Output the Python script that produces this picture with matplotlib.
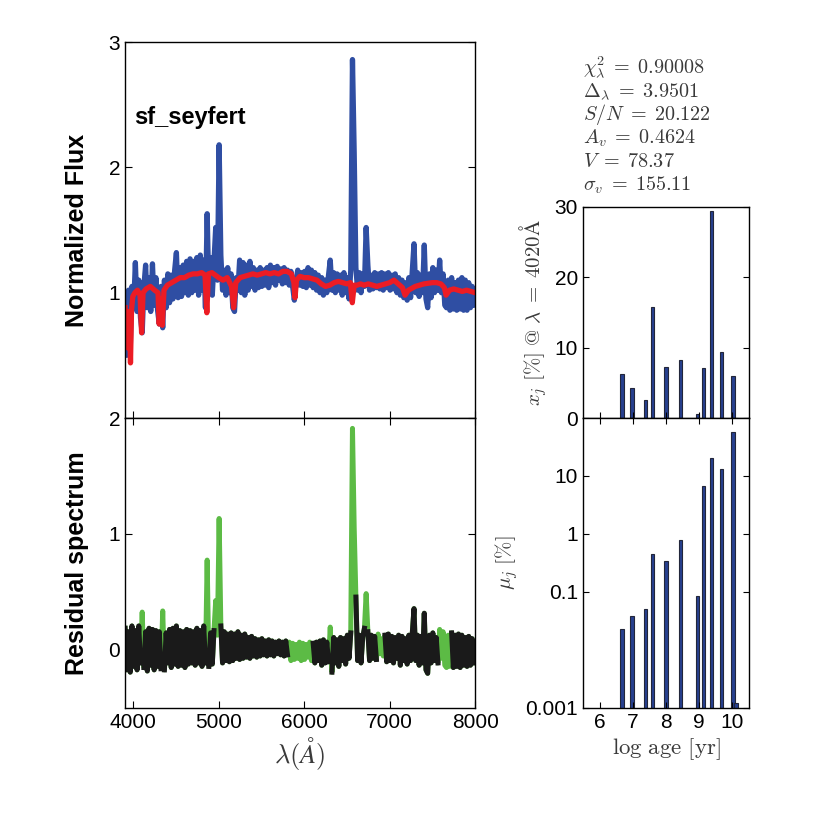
import numpy as np
import matplotlib
matplotlib.use('Agg')
import matplotlib.pyplot as plt

plt.rcParams['font.family'] = ['Liberation Sans', 'DejaVu Sans']
plt.rcParams['mathtext.fontset'] = 'cm'

# observed spectrum, 20 A sampling from 3905 A
lam = np.arange(3905, 8000, 20)
flux_obs = [
    0.95, 0.50, 1.02, 0.55, 1.05, 0.88, 1.24, 0.85, 1.10, 0.80,
    0.68, 1.05, 1.22, 0.88, 1.12, 0.85, 1.23, 0.90, 1.12, 0.86,
    0.75, 1.05, 0.72, 1.10, 0.88, 1.15, 0.92, 1.14, 0.95, 1.18,
    1.32, 0.96, 1.20, 0.97, 1.22, 1.00, 1.25, 0.98, 1.27, 1.00,
    1.25, 1.02, 1.28, 0.98, 1.30, 1.02, 1.26, 0.88, 1.63, 1.00,
    1.28, 0.98, 1.25, 1.52, 1.10, 2.18, 1.30, 1.02, 1.18, 0.98,
    1.20, 1.00, 1.15, 0.88, 0.85, 1.12, 1.02, 1.26, 1.00, 1.24,
    0.98, 1.22, 1.02, 1.25, 1.05, 1.20, 1.02, 1.18, 1.04, 1.20,
    1.05, 1.18, 1.06, 1.20, 1.04, 1.22, 1.08, 1.20, 1.06, 1.21,
    1.10, 1.19, 1.07, 1.20, 1.08, 1.18, 1.06, 1.17, 1.05, 0.94,
    1.10, 1.18, 1.06, 1.16, 1.05, 1.17, 1.04, 1.20, 1.06, 1.18,
    1.04, 1.16, 1.02, 1.14, 1.00, 1.12, 0.98, 1.10, 1.00, 1.14,
    1.26, 1.02, 1.16, 1.00, 1.15, 1.02, 1.14, 0.98, 1.16, 1.00,
    1.12, 0.95, 1.18, 2.86, 2.12, 1.20, 1.02, 1.16, 1.00, 1.15,
    1.05, 1.52, 1.22, 1.02, 1.14, 1.03, 1.16, 1.04, 1.15, 1.03,
    1.16, 1.02, 1.15, 1.04, 1.16, 1.02, 1.14, 1.03, 1.15, 1.00,
    1.12, 0.98, 1.10, 0.96, 1.08, 0.94, 1.12, 0.96, 1.18, 1.39,
    1.00, 1.16, 0.97, 1.14, 1.00, 1.38, 0.95, 0.88, 1.15, 0.96,
    1.20, 1.00, 1.18, 1.02, 1.26, 1.00, 1.15, 0.90, 0.88, 1.10,
    0.86, 1.12, 0.87, 1.08, 0.86, 1.10, 0.87, 1.12, 0.86, 1.10,
    0.86, 1.08, 0.88, 1.05, 0.90,
]

# model (synthetic) spectrum
lam_mod = [3905, 3915, 3925, 3934, 3945, 3958, 3968, 3980, 3995, 4020,
           4050, 4080, 4098, 4115, 4150, 4200, 4250, 4290, 4304, 4320,
           4340, 4360, 4400, 4450, 4500, 4550, 4600, 4650, 4700, 4750,
           4800, 4840, 4861, 4880, 4920, 4960, 5000, 5050, 5100, 5150,
           5175, 5200, 5250, 5300, 5350, 5400, 5450, 5500, 5550, 5600,
           5650, 5700, 5750, 5800, 5850, 5880, 5893, 5910, 5950, 6000,
           6050, 6100, 6150, 6200, 6250, 6300, 6350, 6400, 6450, 6500,
           6540, 6563, 6585, 6620, 6660, 6700, 6750, 6800, 6850, 6900,
           6950, 7000, 7050, 7100, 7150, 7180, 7220, 7300, 7400, 7500,
           7550, 7600, 7640, 7660, 7700, 7750, 7800, 7850, 7900, 7950,
           8000]
flux_mod = [0.88, 0.70, 0.80, 0.56, 0.85, 0.80, 0.44, 0.86, 0.97, 1.00,
            1.02, 0.98, 0.68, 1.00, 1.03, 1.05, 1.02, 1.00, 0.75, 0.95,
            0.74, 1.02, 1.06, 1.08, 1.10, 1.12, 1.12, 1.14, 1.15, 1.15,
            1.16, 1.14, 0.84, 1.15, 1.16, 1.14, 1.12, 1.10, 1.12, 1.05,
            0.88, 1.08, 1.12, 1.13, 1.14, 1.15, 1.14, 1.15, 1.16, 1.15,
            1.16, 1.15, 1.17, 1.17, 1.15, 1.08, 0.96, 1.10, 1.13, 1.12,
            1.12, 1.11, 1.10, 1.07, 1.05, 1.06, 1.08, 1.09, 1.08, 1.07,
            1.08, 0.92, 1.06, 1.06, 1.07, 1.06, 1.07, 1.06, 1.05, 1.06,
            1.07, 1.08, 1.10, 1.07, 1.04, 0.98, 1.02, 1.05, 1.07, 1.08,
            1.08, 1.07, 1.04, 0.98, 1.02, 1.03, 1.02, 1.01, 1.02, 1.01,
            1.00]

# residual spectrum on the same grid as the observed one
resid = [
    0.18, -0.18, 0.15, -0.20, 0.20, -0.15, 0.16, -0.18, 0.20, -0.12,
    0.32, -0.16, 0.15, -0.19, 0.18, -0.14, 0.17, -0.18, 0.16, -0.15,
    0.15, -0.17, 0.33, -0.18, 0.14, -0.12, 0.17, -0.16, 0.18, -0.13,
    0.20, -0.15, 0.16, -0.14, 0.15, -0.16, 0.17, -0.13, 0.16, -0.12,
    0.15, -0.14, 0.18, -0.12, 0.16, -0.15, 0.20, -0.12, 0.77, -0.15,
    0.14, -0.13, 0.16, 0.42, 0.12, 1.13, 0.20, -0.12, 0.15, -0.10,
    0.13, -0.11, 0.14, -0.10, 0.13, -0.08, 0.15, -0.09, 0.12, -0.08,
    0.13, -0.07, 0.10, -0.08, 0.11, -0.06, 0.09, -0.07, 0.08, -0.06,
    0.09, -0.05, 0.07, -0.06, 0.08, -0.05, 0.07, -0.06, 0.06, -0.04,
    0.07, -0.05, 0.06, -0.06, 0.07, -0.05, 0.06, -0.10, 0.05, -0.09,
    0.04, -0.08, 0.06, -0.10, 0.05, -0.09, 0.04, -0.07, 0.06, -0.10,
    0.05, -0.12, 0.06, -0.10, 0.07, -0.14, 0.08, -0.12, 0.06, -0.11,
    0.19, -0.20, 0.10, -0.12, 0.08, -0.15, 0.10, -0.10, 0.09, -0.13,
    0.12, -0.08, 0.14, 1.91, 1.05, 0.45, -0.10, 0.12, -0.12, 0.10,
    0.18, 0.48, 0.15, -0.10, 0.12, -0.08, 0.11, -0.09, 0.13, -0.04,
    0.09, -0.06, 0.12, -0.11, 0.13, -0.10, 0.11, -0.12, 0.10, -0.08,
    0.12, -0.14, 0.11, -0.10, 0.09, -0.13, 0.12, -0.10, 0.14, 0.35,
    -0.10, 0.12, -0.14, 0.11, -0.12, 0.31, -0.18, -0.21, 0.12, -0.12,
    0.14, -0.10, 0.10, -0.12, 0.17, -0.08, 0.15, -0.14, -0.16, 0.12,
    -0.15, 0.14, -0.16, 0.12, -0.15, 0.13, -0.16, 0.12, -0.14, 0.10,
    -0.15, 0.11, -0.14, 0.09, -0.12,
]

# wavelength windows masked in the fit (shown in green)
masks = [(4095, 4115), (4335, 4355), (4855, 4875), (4955, 5015), (5815, 6090),
         (6295, 6315), (6555, 6595), (6715, 6735), (6850, 6930), (7570, 7710)]

# population synthesis
log_age = [6.68, 6.98, 7.38, 7.59, 8.0, 8.44, 8.95, 9.14, 9.38, 9.68, 10.02, 10.11]
x_j = [6.2, 4.3, 2.5, 15.8, 7.3, 8.3, 0.5, 7.1, 29.5, 9.4, 6.0, 0.0]
mu_j = [0.023, 0.038, 0.051, 0.45, 0.34, 0.8, 0.085, 6.7, 20.6, 13.2, 57.5, 0.0012]

stats = [r'$\chi^2_\lambda\;=\;0.90008$', r'$\Delta_\lambda\;=\;3.9501$',
         r'$S/N\;=\;20.122$', r'$A_v\;=\;0.4624$', r'$V\;=\;78.37$',
         r'$\sigma_v\;=\;155.11$']

blue = '#2f4ea3'
red = '#ec1c24'
green = '#5cbb45'
grey = '#3a3a3a'
bar_face = '#27408f'
bar_edge = '#22263a'

fig = plt.figure(figsize=(8.34, 8.34), dpi=100)
ax1 = fig.add_axes([0.150, 0.4988, 0.4197, 0.4508])
ax2 = fig.add_axes([0.150, 0.1511, 0.4197, 0.3477])
ax3 = fig.add_axes([0.699, 0.4988, 0.1990, 0.2530])
ax4 = fig.add_axes([0.699, 0.1511, 0.1990, 0.3477])

# spectrum + model
ax1.plot(lam, flux_obs, color=blue, lw=3.8, solid_joinstyle='round')
ax1.plot(lam_mod, flux_mod, color=red, lw=3.8, solid_joinstyle='round')
ax1.set_xlim(3905, 8000)
ax1.set_ylim(0, 3)
ax1.set_yticks([1, 2, 3])
ax1.set_xticks([4000, 5000, 6000, 7000, 8000])
ax1.set_xticklabels([])
ax1.set_ylabel('Normalized Flux', fontsize=18, fontweight='bold', labelpad=14)
ax1.text(4010, 2.4, 'sf_seyfert', fontsize=17, fontweight='bold', va='center')
ax1.tick_params(direction='in', top=False, right=True, length=5, labelsize=15)

# residuals
lam_arr = np.asarray(lam)
res_arr = np.asarray(resid, dtype=float)
res_black = res_arr.copy()
for lo, hi in masks:
    res_black[(lam_arr >= lo) & (lam_arr <= hi)] = np.nan
ax2.plot(lam_arr, res_arr, color=green, lw=3.6, solid_joinstyle='round')
ax2.plot(lam_arr, res_black, color='#1a1a1a', lw=3.6, solid_joinstyle='round')
ax2.set_xlim(3905, 8000)
ax2.set_ylim(-0.51, 2)
ax2.set_yticks([0, 1, 2])
ax2.set_xticks([4000, 5000, 6000, 7000, 8000])
ax2.set_ylabel('Residual spectrum', fontsize=18, fontweight='bold', labelpad=14)
ax2.set_xlabel(r'$\lambda(\AA)$', fontsize=19, color=grey, labelpad=2)
ax2.tick_params(direction='in', top=True, right=True, length=5, labelsize=15)

# light fractions
ax3.bar(log_age, x_j, width=0.1, color=bar_face, edgecolor=bar_edge, linewidth=0.8)
ax3.set_xlim(5.5, 10.5)
ax3.set_ylim(0, 30)
ax3.set_yticks([0, 10, 20, 30])
ax3.set_xticks([6, 7, 8, 9, 10])
ax3.set_xticklabels([])
ax3.set_ylabel(r'$x_j\ [\%]\ @\ \lambda\;=\;4020\mathrm{\AA}$', fontsize=15, color=grey)
ax3.tick_params(direction='in', top=False, right=True, length=4, labelsize=15)

# mass fractions
ax4.set_yscale('log')
ax4.bar(log_age, mu_j, width=0.1, color=bar_face, edgecolor=bar_edge, linewidth=0.8)
ax4.set_xlim(5.5, 10.5)
ax4.set_ylim(1e-3, 100)
ax4.set_yticks([1e-3, 1e-1, 1, 10])
ax4.set_yticklabels(['0.001', '0.1', '1', '10'])
ax4.minorticks_off()
ax4.set_xticks([6, 7, 8, 9, 10])
ax4.set_xticklabels(['6', '7', '8', '9', '10'])
ax4.set_ylabel(r'$\mu_j\ [\%]$', fontsize=15, color=grey)
ax4.set_xlabel(r'$\mathrm{log\ age\ [yr]}$', fontsize=16.5, color=grey, labelpad=3)
ax4.tick_params(direction='in', top=True, right=True, length=4, labelsize=15)

# fit statistics, one line each
for i, s in enumerate(stats):
    fig.text(0.699, 1 - (73 + i * 23.6) / 834, s, fontsize=14.5, color=grey,
             va='baseline', ha='left')

for ax in (ax1, ax2, ax3, ax4):
    for sp in ax.spines.values():
        sp.set_linewidth(1.0)

fig.savefig('out.png', dpi=100)
